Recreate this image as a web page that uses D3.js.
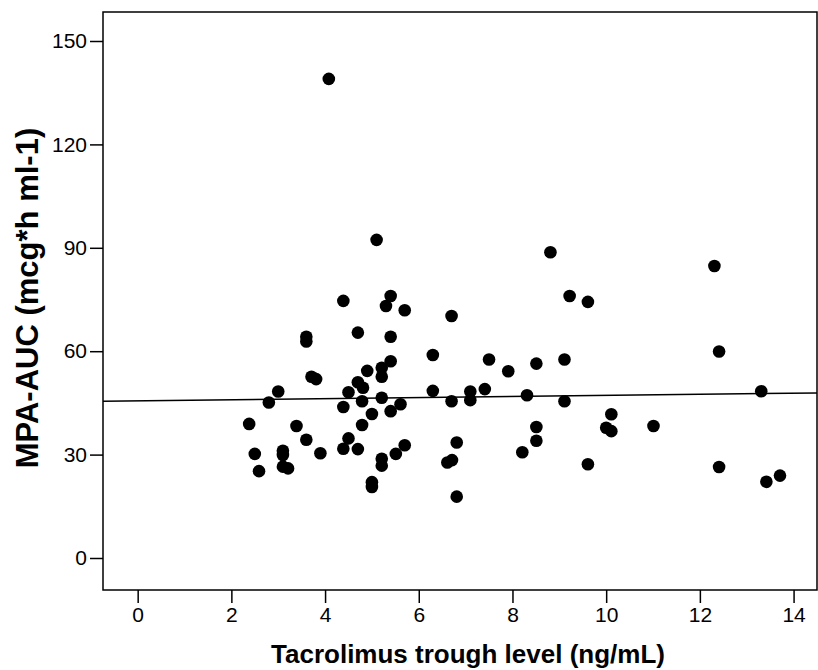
<!DOCTYPE html>
<html><head><meta charset="utf-8">
<script src="https://cdn.jsdelivr.net/npm/d3@7"></script>
<style>body{margin:0;background:#fff}svg{display:block}</style>
</head><body>
<svg id="c" width="818" height="670"></svg>
<script>
const tacrolimus = [4.08,5.10,4.39,5.40,5.30,5.70,3.60,3.60,4.70,5.40,5.40,5.21,4.90,5.21,3.71,3.81,4.70,4.81,3.00,4.50,2.80,4.79,5.21,5.61,5.40,4.39,5.00,2.38,3.39,4.79,3.60,4.50,5.70,5.51,2.50,3.10,3.10,3.90,4.39,4.70,5.21,5.21,3.10,3.21,2.59,5.00,5.00,
8.81,9.22,9.61,6.70,6.30,7.50,8.51,9.11,7.91,6.30,7.10,7.41,7.10,6.70,8.31,9.11,10.11,10.00,10.11,11.01,8.51,8.51,6.81,8.21,6.61,6.71,9.61,6.81,
12.31,12.41,13.31,12.41,13.42,13.71];
const mpaAuc = [139.0,92.3,74.6,76.0,73.1,71.9,64.2,62.8,65.4,64.2,57.1,55.2,54.3,52.6,52.6,51.9,51.0,49.4,48.3,48.1,45.1,45.5,46.5,44.6,42.6,43.8,41.8,38.9,38.3,38.6,34.3,34.7,32.7,30.2,30.2,31.1,29.9,30.4,31.7,31.6,28.8,26.8,26.5,26.0,25.2,22.0,20.6,
88.7,76.0,74.3,70.2,58.9,57.6,56.4,57.6,54.2,48.5,48.3,49.0,45.8,45.5,47.2,45.5,41.7,37.8,36.8,38.3,38.0,34.0,33.5,30.7,27.7,28.4,27.2,17.8,
84.7,59.9,48.4,26.4,22.1,23.9];
const xTicks = [0,2,4,6,8,10,12,14];
const yTicks = [0,30,60,90,120,150];
const fitIntercept = 45.6, fitSlope = 0.157;
const xTitle = "Tacrolimus trough level (ng/mL)";
const yTitle = "MPA-AUC (mcg*h ml-1)";

const svg = d3.select("#c");
const L = 103, R = 817, T = 12, B = 590;
const xMin = -0.74, xMax = 14.5;
const x = d3.scaleLinear().domain([xMin, xMax]).range([L, R]);
const y = d3.scaleLinear().domain([0, 150]).range([558, 41]);
const font = "'Liberation Sans', Arial, sans-serif";

// frame
svg.append("rect").attr("x", L).attr("y", T).attr("width", R - L).attr("height", B - T)
  .attr("fill", "none").attr("stroke", "#000").attr("stroke-width", 1.5);

const xa = svg.append("g").attr("transform", `translate(0,${B})`)
  .call(d3.axisBottom(x).tickValues(xTicks).tickSize(13).tickPadding(4).tickFormat(d3.format("d")));
const ya = svg.append("g").attr("transform", `translate(${L},0)`)
  .call(d3.axisLeft(y).tickValues(yTicks).tickSize(13).tickPadding(3).tickFormat(d3.format("d")));
[xa, ya].forEach(a => {
  a.select(".domain").remove();
  a.selectAll(".tick line").attr("stroke", "#000").attr("stroke-width", 1.5);
  a.selectAll(".tick text").attr("fill", "#000").style("font-family", font).style("font-size", "21px");
});

// fit line
svg.append("line")
  .attr("x1", x(xMin)).attr("y1", y(fitIntercept + fitSlope * xMin))
  .attr("x2", x(xMax)).attr("y2", y(fitIntercept + fitSlope * xMax))
  .attr("stroke", "#000").attr("stroke-width", 1.5);

// points
svg.append("g").selectAll("circle").data(d3.range(tacrolimus.length)).join("circle")
  .attr("cx", i => x(tacrolimus[i])).attr("cy", i => y(mpaAuc[i])).attr("r", 6.3).attr("fill", "#000");

svg.append("text").attr("x", 468).attr("y", 663).attr("text-anchor", "middle")
  .style("font-family", font).style("font-weight", "bold").style("font-size", "26px").text(xTitle);
svg.append("text").attr("transform", "translate(38,298) rotate(-90)").attr("text-anchor", "middle")
  .style("font-family", font).style("font-weight", "bold").style("font-size", "31px").text(yTitle);
</script>
</body></html>
